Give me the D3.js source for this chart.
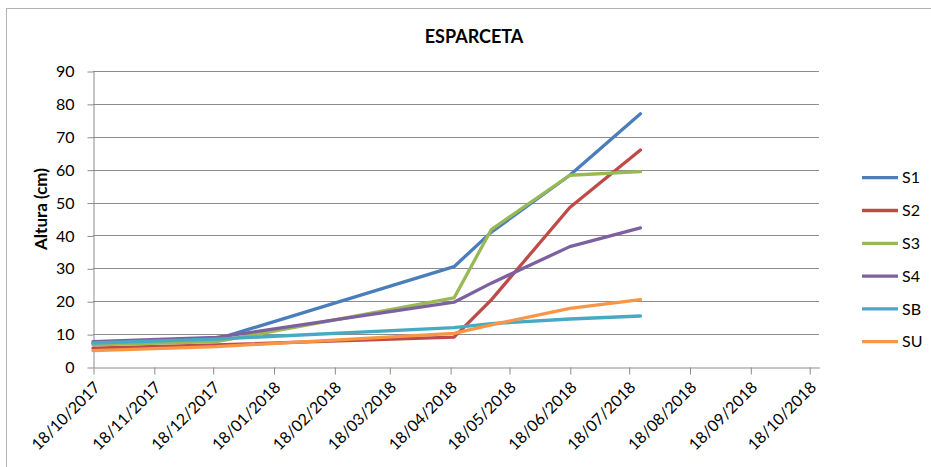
<!DOCTYPE html>
<html>
<head>
<meta charset="utf-8">
<script src="https://cdn.jsdelivr.net/npm/d3@7"></script>
<style>
  html, body { margin: 0; padding: 0; background: #fff; }
  svg { display: block; }
  text { font-family: Lato, "Open Sans", sans-serif; fill: #000; }
</style>
</head>
<body>
<svg id="chart" width="931" height="467"></svg>
<script>
// Measurement dates (day/month/year)
const dates = ["18/10/2017", "20/12/2017", "20/04/2018", "09/05/2018", "18/06/2018", "24/07/2018"];

// Plant height (cm) per plot
const seriesNames = ["S1", "S2", "S3", "S4", "SB", "SU"];
const S1 = [7.2, 8.5, 30.5, 41.0, 58.3, 77.0];
const S2 = [5.7, 6.7, 9.1, 20.4, 48.5, 66.0];
const S3 = [6.7, 7.7, 21.0, 41.8, 58.3, 59.4];
const S4 = [7.7, 9.0, 19.7, 25.5, 36.6, 42.3];
const SB = [7.3, 8.5, 12.0, 13.2, 14.6, 15.5];
const SU = [5.0, 6.2, 10.2, 12.8, 17.8, 20.5];
const seriesValues = [S1, S2, S3, S4, SB, SU];
const seriesColors = ["#4a7ebb", "#be4b48", "#98b954", "#7d60a0", "#46aac5", "#f79646"];

// Axis tick labels
const xTickLabels = ["18/10/2017", "18/11/2017", "18/12/2017", "18/01/2018", "18/02/2018", "18/03/2018",
  "18/04/2018", "18/05/2018", "18/06/2018", "18/07/2018", "18/08/2018", "18/09/2018", "18/10/2018"];
const yTicks = [0, 10, 20, 30, 40, 50, 60, 70, 80, 90];
const xDomain = ["18/10/2017", "23/10/2018"];

const parse = d3.utcParse("%d/%m/%Y");
const fmt = d3.utcFormat("%d/%m/%Y");

const svg = d3.select("#chart");

// outer chart frame
svg.append("rect")
  .attr("x", 6.5).attr("y", 8.5)
  .attr("width", 1200).attr("height", 1200)
  .attr("fill", "none").attr("stroke", "#b3b3b3").attr("stroke-width", 1);

const plot = { left: 93, right: 819, top: 71, bottom: 367 };

const x = d3.scaleUtc()
  .domain(xDomain.map(parse))
  .range([plot.left, plot.right]);

const y = d3.scaleLinear()
  .domain([0, 90])
  .range([plot.bottom, plot.top]);

// horizontal gridlines
svg.append("g")
  .selectAll("line")
  .data(yTicks.filter(v => v > 0))
  .join("line")
  .attr("x1", plot.left).attr("x2", plot.right)
  .attr("y1", d => Math.round(y(d)) + 0.5).attr("y2", d => Math.round(y(d)) + 0.5)
  .attr("stroke", "#8c8c8c").attr("stroke-width", 1);

// y axis
const yAxis = svg.append("g")
  .attr("transform", `translate(${plot.left + 0.5},0.5)`)
  .call(d3.axisLeft(y).tickValues(yTicks).tickSize(6).tickSizeOuter(0).tickPadding(13));
yAxis.select(".domain").attr("stroke", "#8c8c8c");
yAxis.selectAll(".tick line").attr("stroke", "#8c8c8c");
yAxis.selectAll(".tick text")
  .style("font-family", "Lato, sans-serif").style("font-size", "16px").attr("fill", "#000");

// x axis
const xAxis = svg.append("g")
  .attr("transform", `translate(0.5,${plot.bottom + 0.5})`)
  .call(d3.axisBottom(x).tickValues(xTickLabels.map(parse)).tickFormat(fmt).tickSize(7).tickSizeOuter(0));
xAxis.select(".domain").attr("stroke", "#8c8c8c");
xAxis.selectAll(".tick line").attr("stroke", "#8c8c8c");
xAxis.selectAll(".tick text")
  .style("font-family", "Lato, sans-serif").style("font-size", "16px").attr("fill", "#000")
  .attr("text-anchor", "end")
  .attr("y", 0).attr("dy", 0)
  .attr("transform", "translate(7,21) rotate(-45)");

// series lines
const line = d3.line()
  .x(d => x(d.date))
  .y(d => y(d.value));

const seriesData = seriesNames.map((name, i) => ({
  name,
  color: seriesColors[i],
  points: dates.map((d, j) => ({ date: parse(d), value: seriesValues[i][j] }))
}));

svg.append("g")
  .selectAll("path")
  .data(seriesData)
  .join("path")
  .attr("d", d => line(d.points))
  .attr("fill", "none")
  .attr("stroke", d => d.color)
  .attr("stroke-width", 3.3)
  .attr("stroke-linejoin", "round")
  .attr("stroke-linecap", "round");

// title
svg.append("text")
  .attr("x", 474).attr("y", 43)
  .attr("text-anchor", "middle")
  .style("font-size", "18px").style("font-weight", "bold")
  .text("ESPARCETA");

// y axis title
svg.append("text")
  .attr("transform", "translate(47,209) rotate(-90)")
  .attr("text-anchor", "middle")
  .style("font-size", "17px").style("font-weight", "bold")
  .text("Altura (cm)");

// legend
const legend = svg.append("g")
  .selectAll("g")
  .data(seriesData)
  .join("g")
  .attr("transform", (d, i) => `translate(862,${177.7 + i * 32.8})`);
legend.append("line")
  .attr("x1", 0).attr("x2", 36)
  .attr("stroke", d => d.color).attr("stroke-width", 3.3);
legend.append("text")
  .attr("x", 40).attr("dy", "0.35em")
  .style("font-size", "16px")
  .text(d => d.name);
</script>
</body>
</html>
